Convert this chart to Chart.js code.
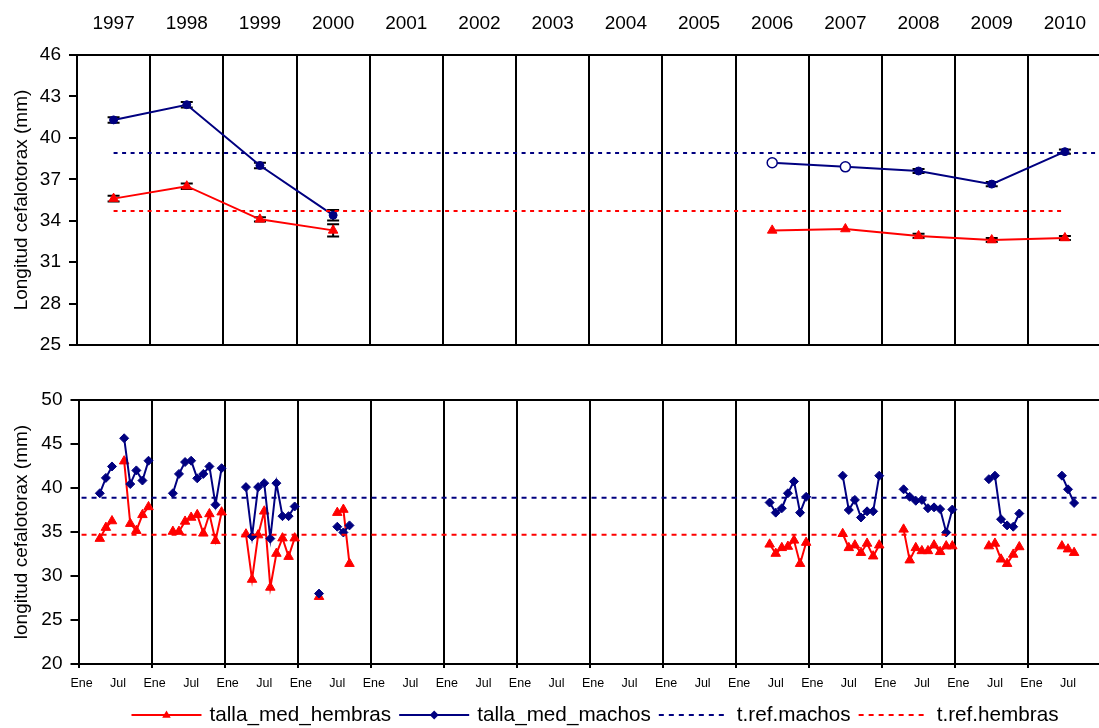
<!DOCTYPE html>
<html>
<head>
<meta charset="utf-8">
<script src="https://cdn.jsdelivr.net/npm/chart.js"></script>
<style>
  html, body { margin: 0; padding: 0; background: #fff; }
  #hoja { position: relative; width: 1099px; height: 728px; overflow: hidden; }
  canvas { position: absolute; left: 0; }
  #anual { top: 0; }
  #mensual { top: 372px; }
</style>
</head>
<body>
<div id="hoja">
  <canvas id="anual" width="1108" height="372"></canvas>
  <canvas id="mensual" width="1108" height="356"></canvas>
</div>
<script>
// DATOS

const anios = ["1997", "1998", "1999", "2000", "2001", "2002", "2003",
  "2004", "2005", "2006", "2007", "2008", "2009", "2010"];
const etiquetasMes = ["Ene", "Jul"];

// medias anuales (panel superior)
const hembrasAnual = [35.6, 36.5, 34.1, 33.3, null, null, null, null, null, 33.3, 33.4, 32.9, 32.6, 32.75];
const hembrasAnualErr = [0.2, 0.2, 0.15, 0.45, null, null, null, null, null, null, null, 0.15, 0.15, 0.15];
const machosAnual = [41.3, 42.4, 38.0, 34.4, null, null, null, null, null, 38.2, 37.9, 37.6, 36.65, 39.0];
const machosAnualErr = [0.2, 0.2, 0.2, 0.38, null, null, null, null, null, null, null, 0.15, 0.15, 0.15];
const machosSinError = ["2006", "2007"]; // marcador vacio

// tallas de referencia
const refMachos = 38.9;
const refHembras = 34.7;

// medias mensuales (panel inferior)
const mesesMuestreo = [
  "1997-04", "1997-05", "1997-06", "1997-08", "1997-09", "1997-10", "1997-11", "1997-12",
  "1998-04", "1998-05", "1998-06", "1998-07", "1998-08", "1998-09", "1998-10", "1998-11", "1998-12",
  "1999-04", "1999-05", "1999-06", "1999-07", "1999-08", "1999-09", "1999-10", "1999-11", "1999-12",
  "2000-04", "2000-07", "2000-08", "2000-09",
  "2006-06", "2006-07", "2006-08", "2006-09", "2006-10", "2006-11", "2006-12",
  "2007-06", "2007-07", "2007-08", "2007-09", "2007-10", "2007-11", "2007-12",
  "2008-04", "2008-05", "2008-06", "2008-07", "2008-08", "2008-09", "2008-10", "2008-11", "2008-12",
  "2009-06", "2009-07", "2009-08", "2009-09", "2009-10", "2009-11",
  "2010-06", "2010-07", "2010-08",
];
const hembrasMes = [
  34.25, 35.5, 36.25, 43.05, 35.95, 35.15, 36.95, 37.85,
  35.05, 35.05, 36.2, 36.65, 36.95, 34.85, 37.05, 34.0, 37.25,
  34.75, 29.6, 34.65, 37.35, 28.7, 32.55, 34.3, 32.2, 34.3,
  27.65, 37.2, 37.55, 31.4,
  33.6, 32.55, 33.2, 33.35, 34.05, 31.4, 33.8,
  34.8, 33.2, 33.5, 32.65, 33.7, 32.25, 33.5,
  35.3, 31.8, 33.2, 32.85, 32.85, 33.5, 32.75, 33.4, 33.4,
  33.4, 33.7, 31.9, 31.4, 32.45, 33.3,
  33.4, 33.05, 32.65,
];
const machosMes = [
  39.4, 41.15, 42.45, 45.65, 40.45, 42.0, 40.85, 43.1,
  39.4, 41.6, 42.95, 43.1, 41.1, 41.6, 42.45, 38.1, 42.25,
  40.1, 34.5, 40.1, 40.55, 34.25, 40.55, 36.8, 36.8, 37.9,
  28.0, 35.6, 34.95, 35.75,
  38.35, 37.2, 37.7, 39.4, 40.75, 37.2, 39.0,
  41.4, 37.5, 38.65, 36.65, 37.35, 37.35, 41.4,
  39.85, 39.0, 38.55, 38.65, 37.7, 37.8, 37.6, 34.95, 37.55,
  41.0, 41.4, 36.45, 35.75, 35.6, 37.1,
  41.4, 39.85, 38.3,
];

// ESTILO GENERAL

const azul = "#000080";
const rojo = "#ff0000";
const fuente = '"Liberation Sans", Arial, Helvetica, sans-serif';

Chart.defaults.font.family = fuente;
Chart.defaults.font.size = 19;
Chart.defaults.color = "#000";
Chart.defaults.animation = false;
Chart.defaults.plugins.legend.display = false;
Chart.defaults.plugins.tooltip.enabled = false;

const primerAnio = Number(anios[0]);
const totalMeses = anios.length * 12;

// puntos mensuales; se corta la linea cuando falta un mes
function serieMensual(valores) {
  const puntos = [];
  let previo = null;
  mesesMuestreo.forEach((f, i) => {
    const [a, m] = f.split("-").map(Number);
    const idx = (a - primerAnio) * 12 + (m - 1);
    if (previo !== null && idx !== previo + 1) puntos.push({ x: previo + 1.5, y: null });
    puntos.push({ x: idx + 0.5, y: valores[i] });
    previo = idx;
  });
  return puntos;
}

const serieAnual = (valores) => valores.map((v, i) => ({ x: i + 0.5, y: v }));

// barras de error del panel superior
const barrasError = {
  id: "barrasError",
  beforeDatasetsDraw(chart) {
    const { ctx } = chart;
    const sx = chart.scales.x;
    const sy = chart.scales.y;
    ctx.save();
    ctx.strokeStyle = "#000";
    ctx.lineWidth = 2;
    chart.data.datasets.forEach((ds) => {
      if (!ds.errores) return;
      ds.data.forEach((p, i) => {
        const e = ds.errores[i];
        if (p.y == null || e == null) return;
        const px = sx.getPixelForValue(p.x);
        const y1 = sy.getPixelForValue(p.y + e);
        const y2 = sy.getPixelForValue(p.y - e);
        ctx.beginPath();
        ctx.moveTo(px, y1);
        ctx.lineTo(px, y2);
        ctx.moveTo(px - 6, y1);
        ctx.lineTo(px + 6, y1);
        ctx.moveTo(px - 6, y2);
        ctx.lineTo(px + 6, y2);
        ctx.stroke();
      });
    });
    ctx.restore();
  },
};

// leyenda de lineas con marcador, bajo el panel inferior
function marcador(ctx, estilo, x, y, r, color) {
  ctx.fillStyle = color;
  ctx.beginPath();
  if (estilo === "triangle") {
    ctx.moveTo(x, y - r);
    ctx.lineTo(x + r * 0.95, y + r * 0.6);
    ctx.lineTo(x - r * 0.95, y + r * 0.6);
  } else {
    ctx.moveTo(x, y - r);
    ctx.lineTo(x + r, y);
    ctx.lineTo(x, y + r);
    ctx.lineTo(x - r, y);
  }
  ctx.closePath();
  ctx.fill();
}

const leyendaLineas = {
  id: "leyendaLineas",
  afterDraw(chart) {
    const ctx = chart.ctx;
    const largo = 70;
    const sep = 8;
    const y = chart.height - 13;
    const items = chart.data.datasets;
    ctx.save();
    ctx.font = "20.7px " + fuente;
    ctx.textBaseline = "middle";
    const anchos = items.map((d) => ctx.measureText(d.label).width);
    const total = anchos.reduce((a, b) => a + b, 0) + items.length * (largo + sep) + (items.length - 1) * sep;
    let x = (chart.chartArea.left + chart.chartArea.right) / 2 + 5 - total / 2;
    items.forEach((d, i) => {
      ctx.strokeStyle = d.borderColor;
      ctx.lineWidth = 2;
      ctx.setLineDash(d.borderDash || []);
      ctx.beginPath();
      ctx.moveTo(x, y);
      ctx.lineTo(x + largo, y);
      ctx.stroke();
      ctx.setLineDash([]);
      if (d.pointRadius > 0) marcador(ctx, d.pointStyle, x + largo / 2, y, 4.5, d.borderColor);
      ctx.fillStyle = "#000";
      ctx.fillText(d.label, x + largo + sep, y);
      x += largo + sep + anchos[i] + sep;
    });
    ctx.restore();
  },
};

// PANEL SUPERIOR: medias anuales

const abierto = (ctx) => machosSinError.includes(anios[ctx.dataIndex]);

new Chart(document.getElementById("anual"), {
  type: "line",
  data: {
    datasets: [
      {
        label: "talla_med_hembras",
        data: serieAnual(hembrasAnual),
        errores: hembrasAnualErr,
        borderColor: rojo,
        backgroundColor: rojo,
        borderWidth: 2,
        pointStyle: "triangle",
        pointRadius: 5.5,
        pointBorderWidth: 1,
        order: 4,
      },
      {
        label: "talla_med_machos",
        data: serieAnual(machosAnual),
        errores: machosAnualErr,
        borderColor: azul,
        backgroundColor: azul,
        borderWidth: 2,
        pointStyle: "circle",
        pointBackgroundColor: (ctx) => (abierto(ctx) ? "#fff" : azul),
        pointRadius: (ctx) => (abierto(ctx) ? 5 : 4),
        pointBorderWidth: (ctx) => (abierto(ctx) ? 1.5 : 1),
        order: 3,
      },
      {
        label: "t.ref.machos",
        data: [{ x: 0.5, y: refMachos }, { x: anios.length + 0.5, y: refMachos }],
        borderColor: azul,
        borderWidth: 2,
        borderDash: [4, 4.5],
        pointRadius: 0,
        order: 2,
      },
      {
        label: "t.ref.hembras",
        data: [{ x: 0.5, y: refHembras }, { x: anios.length - 0.5, y: refHembras }],
        borderColor: rojo,
        borderWidth: 2,
        borderDash: [4, 4.5],
        pointRadius: 0,
        order: 1,
      },
    ],
  },
  options: {
    responsive: false,
    layout: { padding: 0 },
    scales: {
      x: {
        type: "linear",
        position: "top",
        min: 0,
        max: anios.length,
        afterBuildTicks: (s) => { s.ticks = anios.map((a, i) => ({ value: i + 0.5 })); },
        ticks: {
          autoSkip: false,
          maxRotation: 0,
          padding: 20,
          callback: (v) => anios[Math.floor(v)],
        },
        grid: { display: false, drawTicks: false },
        border: { display: true, color: "#000", width: 2 },
        afterFit: (s) => { s.height = 55; },
      },
      xg: {
        type: "linear",
        position: "bottom",
        min: 0,
        max: anios.length,
        afterBuildTicks: (s) => { s.ticks = anios.map((a, i) => ({ value: i })); },
        ticks: { display: false },
        grid: { color: "#000", lineWidth: 2, drawTicks: false },
        border: { color: "#000", width: 2 },
        afterFit: (s) => { s.height = 27; },
      },
      y: {
        min: 25,
        max: 46,
        ticks: { stepSize: 3, padding: 8 },
        grid: { drawOnChartArea: false, color: "#000", lineWidth: 2, tickLength: 8 },
        border: { color: "#000", width: 2 },
        title: { display: true, text: "Longitud cefalotorax (mm)", padding: { top: 10, bottom: 0 } },
        afterFit: (s) => { s.width = 77; },
      },
    },
  },
  plugins: [barrasError],
});

// PANEL INFERIOR: medias mensuales

new Chart(document.getElementById("mensual"), {
  type: "line",
  data: {
    datasets: [
      {
        label: "talla_med_hembras",
        data: serieMensual(hembrasMes),
        borderColor: rojo,
        backgroundColor: rojo,
        borderWidth: 2,
        pointStyle: "triangle",
        pointRadius: 5.5,
        pointBorderWidth: 1,
        order: 4,
      },
      {
        label: "talla_med_machos",
        data: serieMensual(machosMes),
        borderColor: azul,
        backgroundColor: azul,
        borderWidth: 2,
        pointStyle: "rectRot",
        pointRadius: 4.5,
        pointBorderWidth: 1,
        order: 3,
      },
      {
        label: "t.ref.machos",
        data: [{ x: 0.5, y: refMachos }, { x: totalMeses - 0.5, y: refMachos }],
        borderColor: azul,
        borderWidth: 2,
        borderDash: [5, 5],
        pointRadius: 0,
        order: 2,
      },
      {
        label: "t.ref.hembras",
        data: [{ x: 0.5, y: refHembras }, { x: totalMeses - 0.5, y: refHembras }],
        borderColor: rojo,
        borderWidth: 2,
        borderDash: [5, 5],
        pointRadius: 0,
        order: 1,
      },
    ],
  },
  options: {
    responsive: false,
    layout: { padding: { top: 28 } },
    scales: {
      x: {
        type: "linear",
        position: "bottom",
        weight: 1,
        min: 0,
        max: totalMeses,
        afterBuildTicks: (s) => {
          const t = [];
          for (let m = 0; m < totalMeses; m += 6) t.push({ value: m + 0.5 });
          s.ticks = t;
        },
        ticks: {
          autoSkip: false,
          maxRotation: 0,
          padding: 8,
          font: { size: 12.5 },
          callback: (v) => etiquetasMes[Math.floor(v) % 12 === 0 ? 0 : 1],
        },
        grid: { display: false, drawTicks: false },
        border: { display: false },
        afterFit: (s) => { s.height = 60; },
      },
      xg: {
        type: "linear",
        position: "bottom",
        weight: 0,
        min: 0,
        max: totalMeses,
        afterBuildTicks: (s) => { s.ticks = anios.map((a, i) => ({ value: i * 12 })); },
        ticks: { display: false },
        grid: { color: "#000", lineWidth: 2, tickLength: 4 },
        border: { color: "#000", width: 2 },
        afterFit: (s) => { s.height = 4; },
      },
      xt: {
        type: "linear",
        position: "top",
        min: 0,
        max: totalMeses,
        ticks: { display: false },
        grid: { display: false, drawTicks: false },
        border: { color: "#000", width: 2 },
        afterFit: (s) => { s.height = 0; },
      },
      y: {
        min: 20,
        max: 50,
        ticks: { stepSize: 5, padding: 8 },
        grid: { drawOnChartArea: false, color: "#000", lineWidth: 2, tickLength: 8 },
        border: { color: "#000", width: 2 },
        title: { display: true, text: "longitud cefalotorax (mm)", padding: { top: 10, bottom: 0 } },
        afterFit: (s) => { s.width = 78.5; },
      },
    },
  },
  plugins: [leyendaLineas],
});
</script>
</body>
</html>
